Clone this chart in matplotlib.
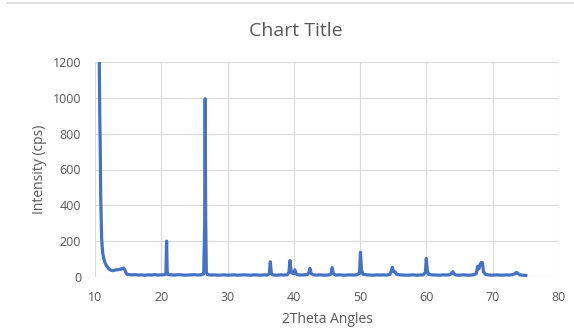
import matplotlib.pyplot as plt
from matplotlib.lines import Line2D

# XRD scan: 2theta (deg) vs intensity (cps)
two_theta = [
    10.45, 10.55, 10.65, 10.72, 10.80, 10.86, 10.95, 11.00, 11.10, 11.20,
    11.35, 11.50, 11.70, 11.90, 12.10, 12.40, 12.70, 13.00, 13.30, 13.60,
    13.90, 14.10, 14.30, 14.50, 14.70, 14.90,
    15.5, 16.0, 16.5, 17.0, 17.5, 18.0, 18.5, 19.0, 19.5, 20.0, 20.5,
    20.7, 20.8, 20.9, 21.0, 21.5, 22.0, 22.5, 23.0, 23.5, 24.0, 24.5, 25.0,
    25.5, 26.0, 26.4, 26.55, 26.62, 26.7, 26.8, 27.0, 27.5, 28.0, 28.5,
    29.0, 29.5, 30.0, 30.5, 31.0, 31.5, 32.0, 32.5, 33.0, 33.5, 34.0, 34.5,
    35.0, 35.5, 36.0, 36.3, 36.45, 36.6, 36.8, 37.0, 37.5, 38.0, 38.5, 39.0,
    39.25, 39.42, 39.6, 39.9, 40.15, 40.35, 40.7, 41.0, 41.5, 42.0, 42.25,
    42.42, 42.6, 42.9, 43.5, 44.0, 44.5, 45.0, 45.5, 45.65, 45.78, 45.95,
    46.3, 47.0, 47.5, 48.0, 48.5, 49.0, 49.5, 49.9, 50.05, 50.2, 50.4, 51.0,
    51.5, 52.0, 52.5, 53.0, 53.5, 54.0, 54.5, 54.7, 54.85, 55.05, 55.3, 55.5,
    56.0, 56.5, 57.0, 57.5, 58.0, 58.5, 59.0, 59.5, 59.85, 59.98, 60.12,
    60.3, 60.8, 61.5, 62.0, 62.5, 63.0, 63.5, 63.85, 64.0, 64.15, 64.5, 65.0,
    65.5, 66.0, 66.5, 67.0, 67.5, 67.75, 67.9, 68.1, 68.3, 68.45, 68.6, 68.9,
    69.5, 70.0, 70.5, 71.0, 71.5, 72.0, 72.5, 73.0, 73.4, 73.6, 73.8, 74.1,
    74.5, 75.0,
]
intensity = [
    2000, 1600, 1150, 900, 700, 450, 300, 220, 160, 125,
    100, 80, 65, 55, 45, 38, 35, 38, 40, 42,
    44, 48, 50, 40, 20, 14,
    12, 13, 11, 12, 10, 12, 11, 13, 11, 12, 13,
    20, 200, 22, 13, 12, 11, 13, 12, 10, 11, 12, 13,
    11, 12, 18, 300, 995, 320, 25, 13, 11, 12, 10,
    11, 12, 10, 11, 12, 10, 11, 12, 11, 10, 12, 11,
    10, 12, 11, 18, 85, 20, 12, 11, 10, 12, 11, 12,
    25, 92, 28, 18, 40, 16, 12, 11, 12, 13, 22,
    48, 20, 12, 11, 12, 10, 11, 13, 25, 52, 18,
    11, 12, 10, 11, 12, 11, 12, 20, 138, 40, 15, 12,
    11, 10, 12, 11, 12, 11, 14, 35, 54, 30, 28, 15,
    12, 11, 10, 11, 12, 10, 11, 12, 25, 104, 40,
    15, 12, 11, 10, 12, 11, 13, 22, 30, 18, 11, 10,
    12, 11, 10, 12, 18, 60, 45, 70, 82, 80, 30, 15,
    11, 10, 12, 11, 10, 12, 11, 13, 20, 26, 20, 12,
    10, 9,
]

x_ticks = [10, 20, 30, 40, 50, 60, 70, 80]
y_ticks = [0, 200, 400, 600, 800, 1000, 1200]

plt.rcParams['font.family'] = ['Open Sans', 'DejaVu Sans']
txt = '#595959'
grid = '#d9d9d9'

fig = plt.figure(figsize=(5.74, 3.29), dpi=100)
ax = fig.add_axes([95/574, 1 - 277/329, 464/574, 215/329])

ax.plot(two_theta, intensity, color='#4472c4', linewidth=2.3,
        solid_joinstyle='round', zorder=3)

ax.set_xlim(10, 80)
ax.set_ylim(0, 1200)
ax.set_xticks(x_ticks)
ax.set_yticks(y_ticks)
ax.grid(True, color=grid, linewidth=0.8)
ax.set_axisbelow(True)
for s in ax.spines.values():
    s.set_visible(False)
ax.tick_params(length=0, labelsize=9, labelcolor=txt)
ax.tick_params(axis='x', pad=10)
ax.tick_params(axis='y', pad=10)

ax.set_xlabel('2Theta Angles', fontsize=10, color=txt, labelpad=6)
ax.set_ylabel('Intensity (cps)', fontsize=10, color=txt, labelpad=4)
fig.text(0.515, 1 - 31/329, 'Chart Title', ha='center', va='center',
         fontsize=14, color=txt)

# thin frame edge along the top
fig.add_artist(Line2D([0.012, 1.0], [1 - 3/329, 1 - 3/329],
                      transform=fig.transFigure, color='#d9d9d9',
                      linewidth=1.2))

fig.savefig('out.png', dpi=100)
